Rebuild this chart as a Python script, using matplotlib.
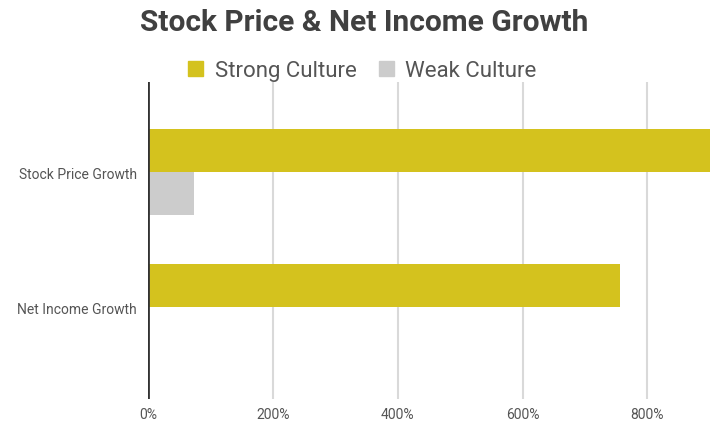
import matplotlib
matplotlib.use("Agg")
import matplotlib.pyplot as plt
import numpy as np
from matplotlib.ticker import FuncFormatter
from matplotlib.patches import Patch

categories = ["Stock Price Growth", "Net Income Growth"]
strong = [901, 756]
weak = [74, 1]
xticks = [0, 200, 400, 600, 800]

plt.rcParams['font.family'] = ['Roboto', 'DejaVu Sans']

fig = plt.figure(figsize=(7.16, 4.27), dpi=100)
ax = fig.add_axes([0.2067, 0.0632, 0.789, 0.7424])

y = np.arange(len(categories))
h = 0.32
ax.barh(y - h/2, strong, height=h, color="#D4C21E", zorder=3)
ax.barh(y + h/2, weak, height=h, color="#CCCCCC", zorder=3)

ax.set_ylim(1.68, -0.667)
ax.set_xlim(0, 905)
ax.set_xticks(xticks)
ax.xaxis.set_major_formatter(FuncFormatter(lambda v, p: f"{int(v)}%"))
ax.set_yticks(y)
ax.set_yticklabels(categories)
ax.tick_params(axis='both', length=0, labelsize=10, colors="#555555")
ax.tick_params(axis='x', pad=6)
ax.tick_params(axis='y', pad=8)
for s in ax.spines.values():
    s.set_visible(False)
ax.grid(axis='x', color="#D9D9D9", linewidth=1.5, zorder=0)
ax.axvline(0, color="#333333", linewidth=2, zorder=4)

fig.text(0.508, 0.945, "Stock Price & Net Income Growth", ha='center', va='center',
         fontsize=21.5, fontweight='bold', color="#404040")
handles = [Patch(color="#D4C21E", label="Strong Culture"),
           Patch(color="#CCCCCC", label="Weak Culture")]
fig.legend(handles=handles, loc='center', bbox_to_anchor=(0.506, 0.832), ncol=2,
           frameon=False, fontsize=16, labelcolor="#555555",
           handlelength=0.7, handleheight=0.7, handletextpad=0.5, columnspacing=1.0)

fig.savefig("out.png", dpi=100, facecolor="white")
